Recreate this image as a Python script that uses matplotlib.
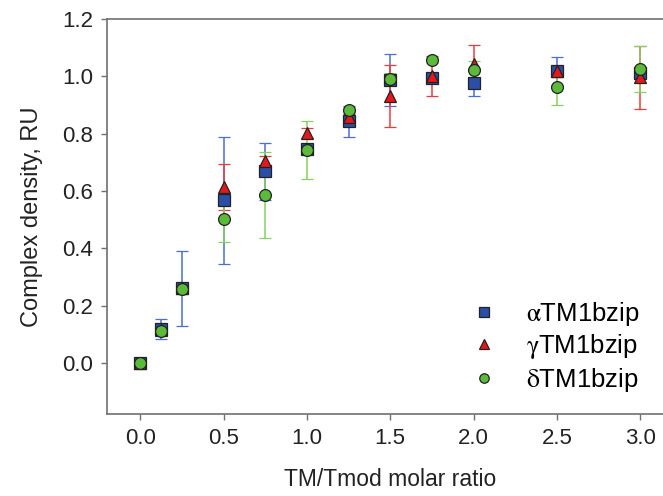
import matplotlib
matplotlib.use("Agg")
import matplotlib.pyplot as plt

plt.rcParams['font.family'] = ['Liberation Sans', 'DejaVu Sans']
plt.rcParams['mathtext.fontset'] = 'stix'

# molar ratio values
ratio = [0, 0.125, 0.25, 0.5, 0.75, 1.0, 1.25, 1.5, 1.75, 2.0, 2.5, 3.0]

alpha = [0, 0.12, 0.26, 0.567, 0.669, 0.747, 0.843, 0.988, 0.994, 0.978, 1.019, 1.011]
alpha_err = [0.005, 0.035, 0.13, 0.22, 0.10, 0.01, 0.053, 0.09, 0.015, 0.048, 0.048, 0.01]

gamma = [0, 0.115, 0.26, 0.613, 0.703, 0.802, 0.857, 0.931, 1.0, 1.043, 1.02, 0.997]
gamma_err = [0.005, 0.01, 0.01, 0.08, 0.02, 0.017, 0.01, 0.108, 0.07, 0.065, 0.017, 0.11]

delta = [0, 0.112, 0.258, 0.503, 0.586, 0.743, 0.882, 0.991, 1.058, 1.022, 0.964, 1.026]
delta_err = [0.005, 0.01, 0.01, 0.08, 0.15, 0.10, 0.01, 0.02, 0.01, 0.03, 0.064, 0.08]

labels = [r"$\mathrm{\alpha}$TM1bzip", r"$\mathrm{\gamma}$TM1bzip", r"$\mathrm{\delta}$TM1bzip"]
xticks = [0.0, 0.5, 1.0, 1.5, 2.0, 2.5, 3.0]
yticks = [0.0, 0.2, 0.4, 0.6, 0.8, 1.0, 1.2]

fig = plt.figure(figsize=(6.63, 4.96), dpi=100)
ax = fig.add_axes([0.1614, 0.1653, 0.8544, 0.7964])

series = [
    (alpha, alpha_err, 's', '#2b4ea6', '#4a6fd0', labels[0]),
    (gamma, gamma_err, '^', '#e5161c', '#f03a3a', labels[1]),
    (delta, delta_err, 'o', '#5cba3a', '#86d160', labels[2]),
]
for vals, errs, mk, fc, ec, lab in series:
    ax.errorbar(ratio, vals, yerr=errs, fmt=mk, color=fc, ecolor=ec,
                elinewidth=1.1, capsize=4, capthick=1.1,
                markersize=8.5, markerfacecolor=fc, markeredgecolor='#222222',
                markeredgewidth=0.9, label=lab)

ax.set_xlim(-0.2, 3.2)
ax.set_ylim(-0.178, 1.2)
ax.set_xticks(xticks)
ax.set_xticklabels([f"{t:.1f}" for t in xticks])
ax.set_yticks(yticks)
ax.set_yticklabels([f"{t:.1f}" for t in yticks])

for s in ax.spines.values():
    s.set_color('#707070')
    s.set_linewidth(1.2)
ax.tick_params(direction='out', length=4, width=1, color='#707070',
               labelsize=16, pad=6, labelcolor='#222222')

ax.set_xlabel("TM/Tmod molar ratio", fontsize=16.5, color='#222222', labelpad=14)
ax.set_ylabel("Complex density, RU", fontsize=17, color='#222222', labelpad=14)

handles, labs = ax.get_legend_handles_labels()
handles = [h[0] for h in handles]
leg = ax.legend(handles, labs, loc='lower right', bbox_to_anchor=(0.981, -0.008),
                frameon=False, fontsize=18.5, handletextpad=1.13,
                labelspacing=0.18, markerscale=0.8, handlelength=1.0)

fig.savefig("out.png", dpi=100)
